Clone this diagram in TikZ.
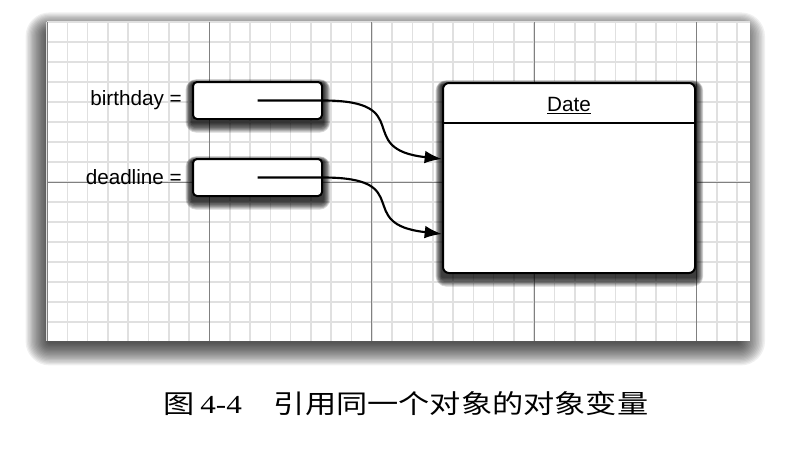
\documentclass[tikz,border=0pt]{standalone}
\usepackage{fontspec}
\setmainfont{Liberation Sans}
\newfontfamily\cjk[FakeStretch=1.2]{Noto Sans CJK SC}
\newfontfamily\capnum[FakeStretch=1.2]{Liberation Serif}
\usetikzlibrary{arrows.meta, positioning, calc}
\pgfdeclarelayer{panel}
\pgfdeclarelayer{shade}
\pgfsetlayers{panel,shade,main}
\tikzset{
  varbox/.style={draw, rounded corners=3pt, line width=1.5pt, fill=white, minimum width=96.75pt, minimum height=27.75pt, inner sep=0pt},
  objbox/.style={draw, rounded corners=4.5pt, line width=1.5pt, fill=white, minimum width=189pt, minimum height=142.5pt, inner sep=0pt},
  varname/.style={font=\fontsize{15.5}{18}\selectfont, inner sep=0pt},
  classname/.style={font=\fontsize{15.5}{18}\selectfont, inner sep=0pt},
  ref/.style={-{Latex[length=13pt,width=9.5pt]}, line width=1.6pt},
  minor/.style={line width=1.2pt, black!12},
  major/.style={line width=0.7pt, black!50},
  caption/.style={font=\fontsize{19.5}{22}\selectfont, inner sep=0pt}
}
% soft shadow under a node
\newcommand{\boxshade}[1]{%
  \begin{pgfonlayer}{shade}
    \foreach \k in {1,...,8}
      \fill[black, opacity=0.16, rounded corners=\k pt]
        ($(#1.north west)+(-0.8*\k,-0.6*\k+3)$) rectangle ($(#1.south east)+(0.9*\k,1.2*\k+3)$);
  \end{pgfonlayer}}
\begin{document}
\begin{tikzpicture}[x=0.75pt, y=-0.75pt]
    \useasboundingbox (0,0) rectangle (812,450);
    % grid paper
    \begin{pgfonlayer}{panel}
      \foreach \k in {1,...,18}
        \fill[black, opacity=0.06, rounded corners=\k pt] (47-1.3*\k+2,22-1.2*\k+12) rectangle (750+1.5*\k-12,341+1.3*\k+1);
      \fill[white] (47,22) rectangle (750,341);
      \foreach \i in {0,...,34} \draw[minor] (47+\i*20.3,22) -- (47+\i*20.3,341);
      \foreach \j in {0,...,15} \draw[minor] (47,22+\j*20) -- (750,22+\j*20);
      \foreach \i in {0,8,16,24,32} \draw[major] (47+\i*20.3,22) -- (47+\i*20.3,341);
      \draw[major] (47,182) -- (750,182);
    \end{pgfonlayer}

    \node[varbox] (bbox) at (257.5,100.5) {};
    \node[varbox, below=28.5pt of bbox] (dbox) {};
    \node[varname, left=7.5pt of bbox] (bname) {birthday =};
    \node[varname, left=7.5pt of dbox] (dname) {deadline =};
    \node[objbox] (date) at (569,178) {};
    \node[classname] (dtitle) at ($(date.north)+(0,24)$) {\underline{Date}};
    \draw[line width=1.5pt] ($(date.north west)+(0,41)$) -- ($(date.north east)+(0,41)$);
    \boxshade{bbox}
    \boxshade{dbox}
    \boxshade{date}

    \coordinate (bin) at ($(date.north west)+(0,77)$);
    \coordinate (din) at ($(date.north west)+(0,152)$);
    \draw[ref] (bbox.center) -- (bbox.east) .. controls +(95,0) and +(-90,-10) .. (bin);
    \draw[ref] (dbox.center) -- (dbox.east) .. controls +(95,0) and +(-90,-10) .. (din);

    \node[caption] (cap) at (406,404) {{\cjk 图}\hspace{4pt}{\capnum 4-4}\hspace{24pt}{\cjk 引用同一个对象的对象变量}};
\end{tikzpicture}
\end{document}
